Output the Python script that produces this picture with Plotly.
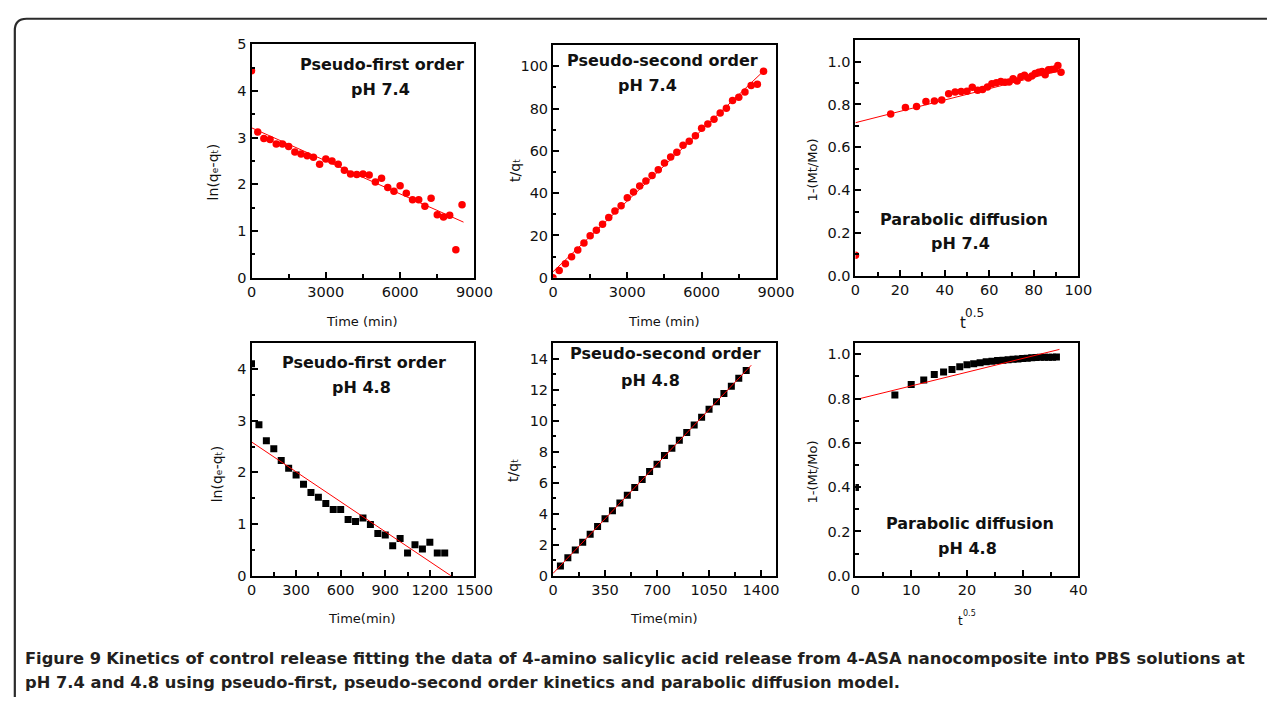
import plotly.graph_objects as go

# page geometry: the figure fills the whole page (body margin removed below)
PAGE_W, PAGE_H = 1283, 703
OFF = 0
W, H = PAGE_W - 2 * OFF, PAGE_H - 2 * OFF

# ---------------- data ----------------
# pH 7.4
time_74 = [0, 250, 500, 750, 1000, 1250, 1500, 1750, 2000, 2250, 2500, 2750, 3000, 3250,
           3500, 3750, 4000, 4250, 4500, 4750, 5000, 5250, 5500, 5750, 6000, 6250, 6500,
           6750, 7000, 7250, 7500, 7750, 8000, 8250, 8500]
ln_74 = [4.43, 3.12, 2.98, 2.96, 2.86, 2.86, 2.81, 2.69, 2.65, 2.61, 2.58, 2.43, 2.54, 2.50,
         2.43, 2.30, 2.22, 2.21, 2.22, 2.20, 2.05, 2.13, 1.93, 1.85, 1.97, 1.81, 1.67,
         1.67, 1.53, 1.70, 1.35, 1.30, 1.34, 0.60, 1.56]
tq_74 = [0.0, 3.4, 6.6, 9.9, 13.1, 16.4, 19.8, 22.4, 25.3, 28.5, 31.5, 34.0, 37.8, 40.6,
         43.4, 45.7, 48.3, 51.1, 54.3, 57.1, 59.3, 62.7, 64.5, 67.1, 70.7, 72.7, 75.0,
         77.9, 80.2, 83.8, 85.3, 87.8, 90.9, 91.5, 97.7]
sqrt_t_74 = [0.0, 15.8, 22.4, 27.4, 31.6, 35.4, 38.7, 41.8, 44.7, 47.4, 50.0, 52.4, 54.8, 57.0,
             59.2, 61.2, 63.2, 65.2, 67.1, 68.9, 70.7, 72.5, 74.2, 75.8, 77.5, 79.1, 80.6,
             82.2, 83.7, 85.1, 86.6, 88.0, 89.4, 90.8, 92.2]
frac_74 = [0.096, 0.756, 0.786, 0.791, 0.814, 0.816, 0.821, 0.850, 0.858, 0.861, 0.862, 0.880,
           0.867, 0.870, 0.882, 0.897, 0.902, 0.907, 0.904, 0.905, 0.920, 0.910, 0.930,
           0.936, 0.924, 0.933, 0.945, 0.951, 0.954, 0.939, 0.962, 0.963, 0.966, 0.982, 0.951]

# pH 4.8
time_48 = [0, 50, 100, 150, 200, 250, 300, 350, 400, 450, 500, 550, 600, 650, 700, 750,
           800, 850, 900, 950, 1000, 1050, 1100, 1150, 1200, 1250, 1300]
ln_48 = [4.10, 2.92, 2.61, 2.46, 2.23, 2.08, 1.95, 1.77, 1.61, 1.52, 1.40, 1.28, 1.28, 1.09,
         1.05, 1.12, 0.99, 0.82, 0.79, 0.58, 0.72, 0.44, 0.60, 0.52, 0.65, 0.44, 0.44]
time_48b = [50, 100, 150, 200, 250, 300, 350, 400, 450, 500, 550, 600, 650, 700, 750,
            800, 850, 900, 950, 1000, 1050, 1100, 1150, 1200, 1250, 1300]
tq_48 = [0.63, 1.16, 1.66, 2.17, 2.67, 3.18, 3.68, 4.19, 4.69, 5.20, 5.70, 6.21, 6.72, 7.20,
         7.75, 8.23, 8.74, 9.24, 9.73, 10.23, 10.74, 11.22, 11.75, 12.23, 12.74, 13.24]
sqrt_t_48 = [0.0, 7.07, 10.0, 12.25, 14.14, 15.81, 17.32, 18.71, 20.0, 21.21, 22.36, 23.45,
             24.49, 25.5, 26.46, 27.39, 28.28, 29.15, 30.0, 30.82, 31.62, 32.4, 33.17, 33.91,
             34.64, 35.36, 36.06]
frac_48 = [0.398, 0.816, 0.864, 0.884, 0.909, 0.920, 0.931, 0.944, 0.953, 0.957, 0.962, 0.966,
           0.969, 0.972, 0.973, 0.975, 0.978, 0.979, 0.981, 0.982, 0.984, 0.985, 0.987, 0.987,
           0.987, 0.987, 0.988]

# linear fits (end points)
fit_first_74 = ([0, 8560], [3.21, 1.19])
fit_second_74 = ([0, 8550], [2.8, 98.3])
fit_parab_74 = ([0, 92.2], [0.715, 0.959])
fit_first_48 = ([0, 1342], [2.59, 0.0])
fit_second_48 = ([0, 1334], [0.15, 13.58])
fit_parab_48 = ([0, 36.6], [0.795, 1.022])

RED = "#ff0000"
BLACK = "#000000"
FONT = "DejaVu Sans, Noto Sans, Liberation Sans, Arial, sans-serif"


def px(x):
    """page pixel -> paper fraction"""
    return (x - OFF) / W


def py(y):
    return 1 - (y - OFF) / H


fig = go.Figure()

panels = [
    dict(x=time_74, y=ln_74, fit=fit_first_74, color=RED, symbol="circle", size=7.5,
         dom=(251, 478, 37, 276), xr=[0, 9000], xt=[0, 3000, 6000, 9000], xm=1500,
         yr=[0, 5], yt=[0, 1, 2, 3, 4, 5], ym=0.5, yfmt=None),
    dict(x=time_74, y=tq_74, fit=fit_second_74, color=RED, symbol="circle", size=7.5,
         dom=(558, 785, 38, 276), xr=[0, 9000], xt=[0, 3000, 6000, 9000], xm=1500,
         yr=[0, 110], yt=[0, 20, 40, 60, 80, 100], ym=10, yfmt=None),
    dict(x=sqrt_t_74, y=frac_74, fit=fit_parab_74, color=RED, symbol="circle", size=7.5,
         dom=(866, 1093, 33, 274), xr=[0, 100], xt=[0, 20, 40, 60, 80, 100], xm=10,
         yr=[0, 1.1], yt=[0, 0.2, 0.4, 0.6, 0.8, 1.0], ym=0.1, yfmt=".1f"),
    dict(x=time_48, y=ln_48, fit=fit_first_48, color=BLACK, symbol="square", size=7,
         dom=(251, 478, 343, 581), xr=[0, 1500], xt=[0, 300, 600, 900, 1200, 1500], xm=150,
         yr=[0, 4.5], yt=[0, 1, 2, 3, 4], ym=0.5, yfmt=None),
    dict(x=time_48b, y=tq_48, fit=fit_second_48, color=BLACK, symbol="square", size=7,
         dom=(558, 785, 343, 581), xr=[0, 1500], xt=[0, 350, 700, 1050, 1400], xm=175,
         yr=[0, 15], yt=[0, 2, 4, 6, 8, 10, 12, 14], ym=1, yfmt=None),
    dict(x=sqrt_t_48, y=frac_48, fit=fit_parab_48, color=BLACK, symbol="square", size=7,
         dom=(866, 1093, 343, 581), xr=[0, 40], xt=[0, 10, 20, 30, 40], xm=5,
         yr=[0, 1.05], yt=[0, 0.2, 0.4, 0.6, 0.8, 1.0], ym=0.1, yfmt=".1f"),
]

for i, p in enumerate(panels, start=1):
    xa = "x" if i == 1 else f"x{i}"
    ya = "y" if i == 1 else f"y{i}"
    fig.add_trace(go.Scatter(x=p["x"], y=p["y"], mode="markers", xaxis=xa, yaxis=ya,
                             marker=dict(color=p["color"], symbol=p["symbol"], size=p["size"],
                                         line=dict(width=0)),
                             showlegend=False))
    fig.add_trace(go.Scatter(x=p["fit"][0], y=p["fit"][1], mode="lines", xaxis=xa, yaxis=ya,
                             line=dict(color=RED, width=1), showlegend=False))
    x0, x1, y0, y1 = p["dom"]
    common = dict(showline=True, linecolor="black", linewidth=2, mirror=True,
                  ticks="inside", ticklen=6, tickwidth=1.5, tickcolor="black",
                  showgrid=False, zeroline=False,
                  tickfont=dict(family=FONT, size=14.5, color="#111111"))
    xkw = dict(common, domain=[px(x0), px(x1)], range=p["xr"], tickmode="array",
               tickvals=p["xt"], anchor=ya,
               minor=dict(ticks="inside", ticklen=3.5, tickwidth=1.5, tickcolor="black",
                          dtick=p["xm"], tick0=0, showgrid=False))
    ykw = dict(common, domain=[py(y1), py(y0)], range=p["yr"], tickmode="array",
               tickvals=p["yt"], anchor=xa,
               minor=dict(ticks="inside", ticklen=3.5, tickwidth=1.5, tickcolor="black",
                          dtick=p["ym"], tick0=0, showgrid=False))
    if p["yfmt"]:
        ykw["tickformat"] = p["yfmt"]
    fig.update_layout(**{("xaxis" if i == 1 else f"xaxis{i}"): xkw,
                         ("yaxis" if i == 1 else f"yaxis{i}"): ykw})

annotations = []


def note(text, x, y, size, bold=False, angle=0, xanchor="center"):
    annotations.append(dict(text=(f"<b>{text}</b>" if bold else text), x=px(x), y=py(y),
                            xref="paper", yref="paper", showarrow=False, textangle=angle,
                            xanchor=xanchor, yanchor="middle",
                            font=dict(family=FONT, size=size, color="#111111")))


# panel labels
note("Pseudo-first order", 384, 58, 16, True)
note("pH 7.4", 382, 83, 16, True)
note("Pseudo-second order", 670, 54, 16, True)
note("pH 7.4", 654, 79, 16, True)
note("Parabolic diffusion", 977, 216, 16, True)
note("pH 7.4", 973, 241, 16, True)
note("Pseudo-first order", 366, 363, 16, True)
note("pH 4.8", 363, 388, 16, True)
note("Pseudo-second order", 673, 354, 16, True)
note("pH 4.8", 657, 381, 16, True)
note("Parabolic diffusion", 983, 528, 16, True)
note("pH 4.8", 980, 553, 16, True)

# axis titles
note("ln(q\u2091-q\u209c)", 212, 168, 14, angle=-90)
note("t/q\u209c", 520, 166, 14, angle=-90)
note("1-(Mt/Mo)", 822, 166, 13, angle=-90)
note("ln(q\u2091-q\u209c)", 216, 477, 14, angle=-90)
note("t/q\u209c", 518, 473, 14, angle=-90)
note("1-(Mt/Mo)", 822, 475, 13, angle=-90)
note("Time (min)", 364, 321, 13)
note("Time (min)", 671, 321, 13)
note("t", 975, 322, 15)
note("0.5", 987, 312, 12)
note("Time(min)", 363, 625, 13)
note("Time(min)", 671, 625, 13)
note("t", 973, 627, 12)
note("0.5", 982, 620, 8)

# caption
annotations.append(dict(
    text="<b>Figure 9</b> <b>Kinetics of control release fitting the data of 4-amino salicylic acid release from 4-ASA nanocomposite into PBS solutions at</b>",
    x=px(18), y=py(666), xref="paper", yref="paper", showarrow=False, xanchor="left",
    yanchor="middle", font=dict(family=FONT, size=16.3, color="#231f20")))
annotations.append(dict(
    text="<b>pH 7.4 and 4.8 using pseudo-first, pseudo-second order kinetics and parabolic diffusion model.</b>",
    x=px(18), y=py(690), xref="paper", yref="paper", showarrow=False, xanchor="left",
    yanchor="middle", font=dict(family=FONT, size=16.3, color="#231f20")))

# frame with rounded top-left corner
r = 12
path = (f"M {px(10)},{py(705)} L {px(10)},{py(11 + r)} "
        f"Q {px(10)},{py(11)} {px(10 + r)},{py(11)} L {px(1285)},{py(11)}")
shapes = [dict(type="path", path=path, xref="paper", yref="paper",
               line=dict(color="#2b2b2b", width=2.2))]

fig.update_layout(width=W, height=H, margin=dict(l=0, r=0, t=0, b=0),
                  paper_bgcolor="white", plot_bgcolor="white",
                  annotations=annotations, shapes=shapes, showlegend=False)

fig.write_html("out.html", config={"displayModeBar": False},
               post_script="document.body.style.margin='0px';"
                           "document.body.style.padding='0px';"
                           "document.documentElement.style.overflow='hidden';")
